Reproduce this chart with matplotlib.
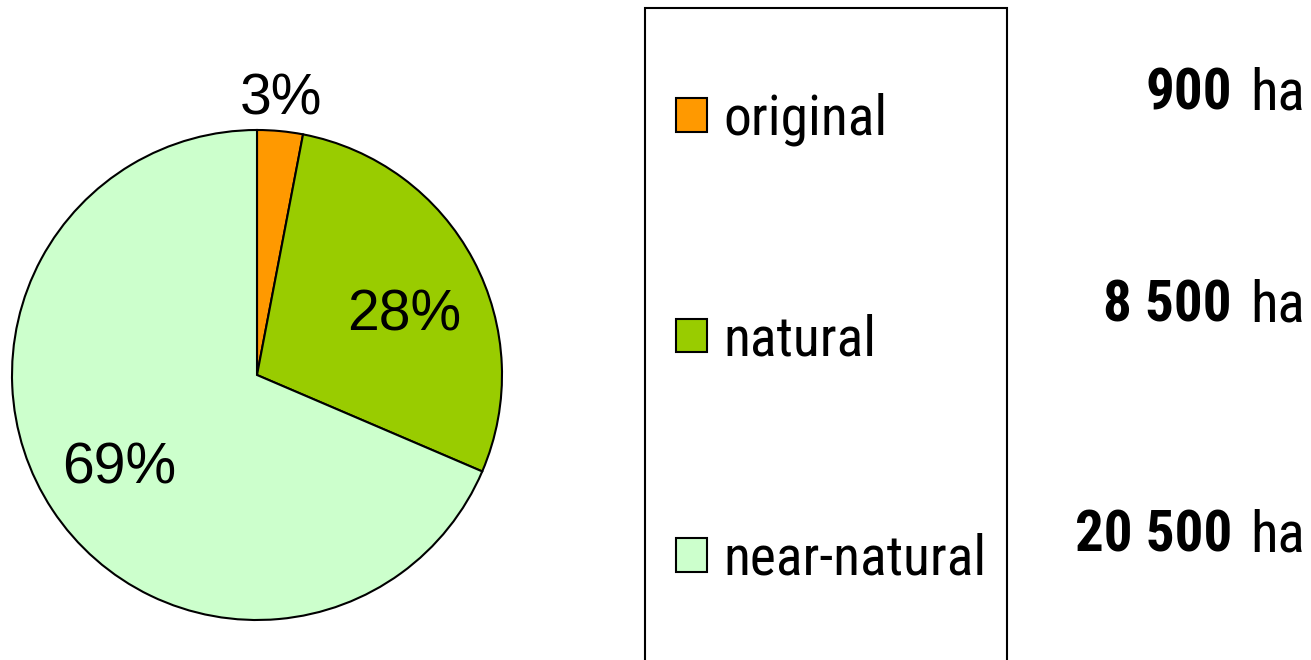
import numpy as np
import matplotlib
matplotlib.use('Agg')
import matplotlib.pyplot as plt
from matplotlib.patches import Rectangle

categories = ['original', 'natural', 'near-natural']
areas = [900, 8500, 20500]
area_labels = ['900', '8 500', '20 500']
colors = ['#FF9900', '#99CC00', '#CCFFCC']

plt.rcParams['font.family'] = ['Roboto Condensed', 'DejaVu Sans']

W, H = 1311, 660
fig = plt.figure(figsize=(W / 100, H / 100), dpi=100)

# pie axes, square in pixels
cx, cy, r = 257, 375, 245
ax = fig.add_axes([(cx - r) / W, (H - cy - r) / H, 2 * r / W, 2 * r / H])
wedges, texts, autotexts = ax.pie(areas, colors=colors, startangle=90, counterclock=False,
                                  autopct=lambda p: '%d%%' % round(p), pctdistance=0.66,
                                  wedgeprops=dict(edgecolor='black', linewidth=1.5),
                                  textprops=dict(fontsize=41, color='black',
                                                 family=['Liberation Sans', 'DejaVu Sans']))
ax.set_xlim(-1, 1)
ax.set_ylim(-1, 1)

# small slice label sits outside, natural label a bit lower (like excel)
w0 = wedges[0]
mid = np.deg2rad((w0.theta1 + w0.theta2) / 2)
autotexts[0].set_position((1.13 * np.cos(mid) - 0.01, 1.13 * np.sin(mid)))
x1, y1 = autotexts[1].get_position()
autotexts[1].set_position((x1 + 0.02, y1 - 0.065))
x2, y2 = autotexts[2].get_position()
autotexts[2].set_position((x2 - 0.01, y2 - 0.02))

# legend frame
fig.patches.append(Rectangle((645 / W, -0.1), (1007 - 645) / W, 1.1 - 8 / H,
                             transform=fig.transFigure, fill=False,
                             edgecolor='black', linewidth=1.5))
fig.legend(wedges, categories, loc='upper left', bbox_to_anchor=(676 / W, 1 - 93 / H),
           frameon=False, fontsize=40, handlelength=0.56, handleheight=0.56,
           handletextpad=0.3, labelspacing=3.0, borderpad=0, borderaxespad=0)

# area values
ys = [110, 322, 552]
for lab, y in zip(area_labels, ys):
    fig.text(1232 / W, 1 - y / H, lab, ha='right', va='baseline', fontsize=41, fontweight='bold')
    fig.text(1250 / W, 1 - y / H, 'ha', ha='left', va='baseline', fontsize=41)

fig.savefig('out.png', dpi=100)
